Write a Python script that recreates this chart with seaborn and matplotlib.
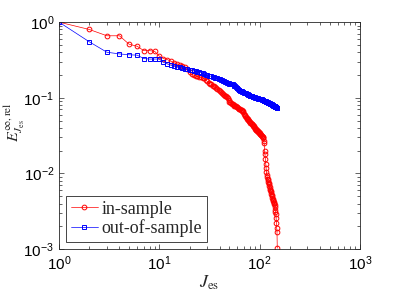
import numpy as np
import pandas as pd
import matplotlib
matplotlib.use("Agg")
import matplotlib.pyplot as plt
import seaborn as sns

# number of ES terms kept
J_es = list(range(1, 151))

# in-sample relative error
in_sample = [
    1.0, 0.80, 0.66, 0.66, 0.51, 0.48, 0.42, 0.42, 0.41, 0.355,
    0.33, 0.32, 0.305, 0.29, 0.28, 0.268, 0.262, 0.255, 0.24, 0.222,
    0.205, 0.199, 0.196, 0.192, 0.189, 0.186, 0.183, 0.180, 0.172, 0.165,
    0.158, 0.154, 0.150, 0.145, 0.141, 0.138, 0.134, 0.130, 0.126, 0.122,
    0.119, 0.116, 0.113, 0.110, 0.107, 0.105, 0.103, 0.098, 0.093, 0.089,
    0.087, 0.085, 0.083, 0.082, 0.081, 0.079, 0.078, 0.077, 0.076, 0.075,
    0.073, 0.072, 0.071, 0.070, 0.069, 0.068, 0.067, 0.066, 0.065, 0.061,
    0.059, 0.057, 0.055, 0.054, 0.053, 0.052, 0.051, 0.050, 0.049, 0.048,
    0.047, 0.046, 0.0455, 0.045, 0.044, 0.043, 0.042, 0.041, 0.040, 0.039,
    0.0385, 0.038, 0.0375, 0.037, 0.0365, 0.036, 0.0355, 0.035, 0.0345, 0.034,
    0.0335, 0.033, 0.0325, 0.032, 0.0315, 0.031, 0.0305, 0.030, 0.029, 0.027,
    0.025, 0.020, 0.018, 0.0155, 0.0135, 0.0118, 0.0103, 0.0095, 0.0089, 0.0085,
    0.0081, 0.0078, 0.0075, 0.0072, 0.0069, 0.0066, 0.0063, 0.0060, 0.0058, 0.0056,
    0.0054, 0.0052, 0.0050, 0.0048, 0.0046, 0.0044, 0.0043, 0.0042, 0.0041, 0.0040,
    0.0038, 0.0036, 0.0033, 0.0031, 0.0029, 0.0026, 0.0022, 0.0019, 0.0017, 0.00103,
]

# out-of-sample relative error
out_sample = [
    1.0, 0.55, 0.40, 0.38, 0.37, 0.366, 0.33, 0.325, 0.325, 0.325,
    0.295, 0.28, 0.27, 0.262, 0.256, 0.252, 0.247, 0.242, 0.238, 0.235,
    0.232, 0.228, 0.225, 0.222, 0.220, 0.215, 0.210, 0.205, 0.200, 0.197,
    0.195, 0.194, 0.192, 0.190, 0.187, 0.184, 0.181, 0.180, 0.178, 0.176,
    0.173, 0.170, 0.167, 0.165, 0.163, 0.161, 0.159, 0.157, 0.155, 0.153,
    0.152, 0.151, 0.150, 0.150, 0.148, 0.145, 0.142, 0.139, 0.136, 0.133,
    0.130, 0.128, 0.126, 0.124, 0.123, 0.122, 0.121, 0.120, 0.119, 0.117,
    0.116, 0.115, 0.114, 0.113, 0.112, 0.111, 0.110, 0.109, 0.108, 0.107,
    0.106, 0.1055, 0.105, 0.104, 0.103, 0.1025, 0.102, 0.1015, 0.101, 0.1005,
    0.100, 0.0995, 0.099, 0.0986, 0.0982, 0.0979, 0.0976, 0.0974, 0.0972, 0.0970,
    0.0970, 0.0965, 0.096, 0.0955, 0.095, 0.0944, 0.0938, 0.0932, 0.0926, 0.092,
    0.0915, 0.091, 0.0905, 0.090, 0.0895, 0.089, 0.0885, 0.088, 0.0875, 0.087,
    0.0865, 0.086, 0.0855, 0.085, 0.085, 0.0845, 0.084, 0.0835, 0.083, 0.0825,
    0.082, 0.0815, 0.081, 0.0805, 0.080, 0.0795, 0.079, 0.0785, 0.078, 0.078,
    0.0775, 0.077, 0.0765, 0.076, 0.0755, 0.075, 0.0745, 0.074, 0.0735, 0.0725,
]

labels = ["in-sample", "out-of-sample"]

sns.set_style("ticks")
plt.rcParams["mathtext.fontset"] = "stix"
plt.rcParams["font.family"] = ["Liberation Sans", "DejaVu Sans"]

fig = plt.figure(figsize=(3.99, 2.99), dpi=100)
ax = fig.add_axes([0.148, 0.167, 0.754, 0.759])

df_in = pd.DataFrame({"J": J_es, "E": in_sample})
df_out = pd.DataFrame({"J": J_es, "E": out_sample})

sns.lineplot(data=df_in, x="J", y="E", ax=ax, color="red", marker="o",
             markersize=3.4, mfc="none", mec="red", mew=0.7, lw=0.5,
             label=labels[0], estimator=None)
sns.lineplot(data=df_out, x="J", y="E", ax=ax, color="blue", marker="s",
             markersize=2.6, mfc="none", mec="blue", mew=0.7, lw=0.5,
             label=labels[1], estimator=None)

ax.set_xscale("log")
ax.set_yscale("log")
ax.set_xlim(1, 1000)
ax.set_ylim(1e-3, 1)

gray = "#262626"
for s in ax.spines.values():
    s.set_visible(True)
    s.set_color(gray)
    s.set_linewidth(0.6)
ax.tick_params(which="both", direction="in", top=True, right=True,
               colors=gray, labelcolor="black", labelsize=11, width=0.5)
ax.tick_params(which="major", length=3.5)
ax.tick_params(which="minor", length=2)

ax.set_xlabel(r"$J_{\mathrm{es}}$", fontsize=13, labelpad=1)
ax.set_ylabel(r"$E^{\infty,\mathrm{rel}}_{J_{\mathrm{es}}}$", fontsize=11.5)
ax.yaxis.set_label_coords(-0.108, 0.56)

leg = ax.legend(loc="lower left", prop={"family": "Liberation Serif", "size": 13},
                fancybox=False, framealpha=1, edgecolor=gray,
                handlelength=1.5, handletextpad=0.2, borderpad=0.25,
                labelspacing=0.1, borderaxespad=0.4)
leg.get_frame().set_linewidth(0.6)

fig.savefig("out.png", dpi=100)
